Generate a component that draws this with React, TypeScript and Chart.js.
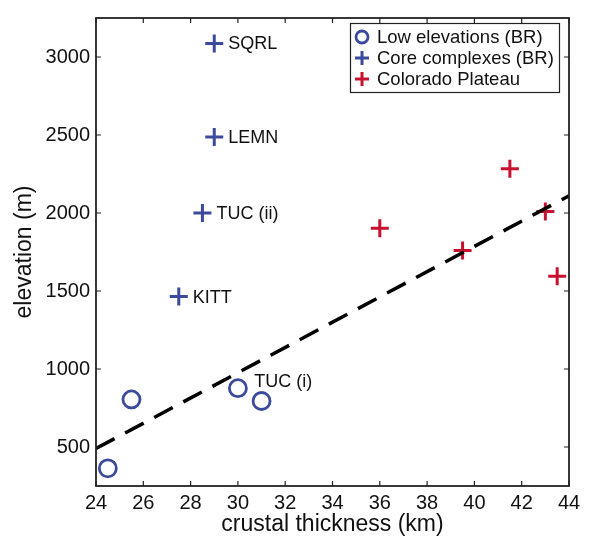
import React, { useEffect, useRef } from "react";
import { Chart, registerables } from "chart.js";

Chart.register(...registerables);

// ---- data ----
const lowX = [24.5, 25.5, 30.0, 31.0];
const lowY = [363, 805, 877, 795];

const coreX = [29.0, 29.0, 28.5, 27.5];
const coreY = [3087, 2487, 2000, 1464];

const cpX = [36.0, 39.5, 41.5, 43.0, 43.5];
const cpY = [1902, 1760, 2283, 2010, 1595];

const fitX = [24, 44];
const fitY = [490, 2110];

const labelText = ["SQRL", "LEMN", "TUC (ii)", "KITT", "TUC (i)"];
const labelX = [29.0, 29.0, 28.5, 27.5, 30.1];
const labelY = [3087, 2487, 2000, 1464, 920];

const xTicks = [24, 26, 28, 30, 32, 34, 36, 38, 40, 42, 44];
const yTicks = [500, 1000, 1500, 2000, 2500, 3000];

const legendNames = ["Low elevations (BR)", "Core complexes (BR)", "Colorado Plateau"];

const BLUE = "#3b4a9c";
const RED = "#c8112f";
const FONT = "'Liberation Sans', Arial, Helvetica, sans-serif";

const zip = (xs: number[], ys: number[]) => xs.map((x, i) => ({ x, y: ys[i] }));

const framePlugin = {
  id: "frame",
  afterDraw(chart: any) {
    const { ctx, chartArea: a, scales } = chart;
    ctx.save();
    ctx.strokeStyle = "#222";
    ctx.lineWidth = 1.8;
    ctx.strokeRect(a.left, a.top, a.right - a.left, a.bottom - a.top);
    ctx.lineWidth = 1.2;
    const tl = 5;
    ctx.beginPath();
    xTicks.forEach((v) => {
      const px = scales.x.getPixelForValue(v);
      ctx.moveTo(px, a.bottom);
      ctx.lineTo(px, a.bottom - tl);
      ctx.moveTo(px, a.top);
      ctx.lineTo(px, a.top + tl);
    });
    yTicks.forEach((v) => {
      const py = scales.y.getPixelForValue(v);
      ctx.moveTo(a.left, py);
      ctx.lineTo(a.left + tl, py);
      ctx.moveTo(a.right, py);
      ctx.lineTo(a.right - tl, py);
    });
    ctx.stroke();
    ctx.restore();
  },
};

const labelPlugin = {
  id: "ptlabels",
  afterDatasetsDraw(chart: any) {
    const { ctx, scales } = chart;
    ctx.save();
    ctx.fillStyle = "#111";
    ctx.font = `18px ${FONT}`;
    ctx.textAlign = "left";
    ctx.textBaseline = "middle";
    labelText.forEach((t, i) => {
      const px = scales.x.getPixelForValue(labelX[i]);
      const py = scales.y.getPixelForValue(labelY[i]);
      ctx.fillText(t, px + 14, py + 1);
    });
    ctx.restore();
  },
};

const legendPlugin = {
  id: "customLegend",
  afterDraw(chart: any) {
    const { ctx } = chart;
    const bx = 350, by = 23, bw = 209, bh = 69;
    ctx.save();
    ctx.fillStyle = "#fff";
    ctx.fillRect(bx, by, bw, bh);
    ctx.strokeStyle = "#222";
    ctx.lineWidth = 1.2;
    ctx.strokeRect(bx + 0.5, by + 0.5, bw, bh);
    ctx.font = `18.5px ${FONT}`;
    ctx.textBaseline = "middle";
    ctx.textAlign = "left";
    const rows = [37, 58, 79];
    rows.forEach((ry, i) => {
      const mx = 362;
      ctx.lineWidth = i === 0 ? 2.8 : 3;
      ctx.strokeStyle = i === 2 ? RED : BLUE;
      ctx.beginPath();
      if (i === 0) {
        ctx.arc(mx, ry, 6, 0, Math.PI * 2);
      } else {
        ctx.moveTo(mx - 7, ry);
        ctx.lineTo(mx + 7, ry);
        ctx.moveTo(mx, ry - 7);
        ctx.lineTo(mx, ry + 7);
      }
      ctx.stroke();
      ctx.fillStyle = "#111";
      ctx.fillText(legendNames[i], 377, ry + 1);
    });
    ctx.restore();
  },
};

export default function App() {
  const ref = useRef<HTMLCanvasElement | null>(null);
  useEffect(() => {
    document.body.style.margin = "0";
    const canvas = ref.current!;
    const chart = new Chart(canvas, {
      type: "scatter",
      data: {
        datasets: [
          {
            type: "line",
            label: "fit",
            data: zip(fitX, fitY),
            borderColor: "#000",
            borderWidth: 3.5,
            borderDash: [21, 12],
            pointRadius: 0,
            fill: false,
          } as any,
          {
            label: legendNames[0],
            data: zip(lowX, lowY),
            pointStyle: "circle",
            pointRadius: 8.5,
            borderColor: BLUE,
            backgroundColor: "rgba(0,0,0,0)",
            borderWidth: 2.8,
          },
          {
            label: legendNames[1],
            data: zip(coreX, coreY),
            pointStyle: "cross",
            pointRadius: 9,
            borderColor: BLUE,
            backgroundColor: BLUE,
            borderWidth: 3,
          },
          {
            label: legendNames[2],
            data: zip(cpX, cpY),
            pointStyle: "cross",
            pointRadius: 9,
            borderColor: RED,
            backgroundColor: RED,
            borderWidth: 3,
          },
        ],
      },
      options: {
        animation: false,
        responsive: false,
        maintainAspectRatio: false,
        layout: { padding: { top: 13, right: 22, left: 0, bottom: 0 } },
        plugins: {
          legend: { display: false },
          tooltip: { enabled: false },
        },
        scales: {
          x: {
            type: "linear",
            min: 24,
            max: 44,
            grid: { display: false, drawTicks: false },
            border: { display: false },
            afterBuildTicks: (s: any) => {
              s.ticks = xTicks.map((v) => ({ value: v }));
            },
            afterFit: (s: any) => {
              s.height = 52;
            },
            ticks: {
              padding: 5,
              color: "#111",
              font: { family: FONT, size: 20 },
              maxRotation: 0,
              autoSkip: false,
              callback: (v: any) => String(v),
            },
            title: {
              display: true,
              text: "crustal thickness (km)",
              color: "#111",
              font: { family: FONT, size: 23 },
              padding: { top: 0, bottom: 0 },
            },
          },
          y: {
            type: "linear",
            min: 250,
            max: 3250,
            grid: { display: false, drawTicks: false },
            border: { display: false },
            afterBuildTicks: (s: any) => {
              s.ticks = yTicks.map((v) => ({ value: v }));
            },
            afterFit: (s: any) => {
              s.width = 96;
            },
            ticks: {
              padding: 6,
              color: "#111",
              font: { family: FONT, size: 20 },
              autoSkip: false,
              callback: (v: any) => String(v),
            },
            title: {
              display: true,
              text: "elevation (m)",
              color: "#111",
              font: { family: FONT, size: 23 },
              padding: { top: 11, bottom: 0 },
            },
          },
        },
      },
      plugins: [framePlugin, labelPlugin, legendPlugin],
    });
    return () => chart.destroy();
  }, []);
  return (
    <div style={{ width: 591, height: 538 }}>
      <canvas ref={ref} width={591} height={538} style={{ display: "block" }} />
    </div>
  );
}
